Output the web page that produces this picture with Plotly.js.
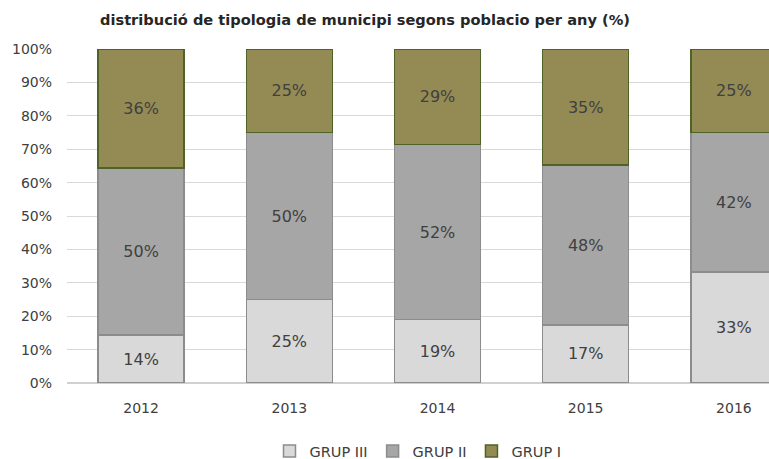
<!DOCTYPE html>
<html>
<head>
<meta charset="utf-8">
<script src="https://cdn.plot.ly/plotly-3.0.1.min.js"></script>
<style>html,body{margin:0;padding:0;background:#fff;}#chart{width:769px;height:459px;}</style>
</head>
<body>
<div id="chart"></div>
<script>
const years = ['2012', '2013', '2014', '2015', '2016'];
const grupIII = [14.3, 25.0, 19.0, 17.4, 33.3];
const grupII = [50.0, 50.0, 52.4, 47.8, 41.7];
const grupI = [35.7, 25.0, 28.6, 34.8, 25.0];
const seriesNames = ['GRUP III', 'GRUP II', 'GRUP I'];
const titleText = 'distribució de tipologia de municipi segons poblacio per any (%)';

const fontFam = 'DejaVu Sans, sans-serif';
const txtColor = '#404040';

function mk(name, vals, fill, line) {
  return {
    type: 'bar', name: name, x: years, y: vals,
    marker: {color: fill, line: {color: line, width: 1.5}},
    texttemplate: '%{y:.0f}%', textposition: 'inside', insidetextanchor: 'middle',
    textfont: {family: fontFam, size: 16, color: txtColor},
    hoverinfo: 'skip'
  };
}

const data = [
  mk(seriesNames[0], grupIII, '#d9d9d9', '#8c8c8c'),
  mk(seriesNames[1], grupII, '#a6a6a6', '#8c8c8c'),
  mk(seriesNames[2], grupI, '#948a54', '#4f6228')
];

const layout = {
  width: 769, height: 459,
  margin: {l: 67, r: 0, t: 49, b: 76, autoexpand: false},
  paper_bgcolor: '#fff', plot_bgcolor: '#fff',
  barmode: 'stack', bargap: 0.42,
  font: {family: fontFam, color: txtColor, size: 13},
  title: {text: titleText, x: 100/769, xanchor: 'left', xref: 'container', y: 1 - 20/459, yanchor: 'middle', yref: 'container',
          font: {family: fontFam, size: 14.6, weight: 'bold', color: '#262626'}},
  xaxis: {type: 'category', range: [-0.5, 4.237], showgrid: false, showline: false, ticks: '', automargin: false,
          ticklabelstandoff: 15,
          tickfont: {family: fontFam, size: 14, color: txtColor}, fixedrange: true},
  yaxis: {range: [0, 100], dtick: 10, ticksuffix: '%', showgrid: true, gridcolor: '#d9d9d9', gridwidth: 1,
          zeroline: true, zerolinecolor: '#d0d0d0', zerolinewidth: 1.5, showline: false, automargin: false,
          ticklabelstandoff: 14,
          tickfont: {family: fontFam, size: 14, color: txtColor}, ticklen: 0, ticks: '', fixedrange: true},
  showlegend: true,
  legend: {orientation: 'h', x: 0.5, xanchor: 'center', y: 8/459, yanchor: 'middle', yref: 'container', traceorder: 'normal',
           font: {family: fontFam, size: 14.5, color: txtColor}, itemwidth: 30, tracegroupgap: 0}
};

Plotly.newPlot('chart', data, layout, {displayModeBar: false, staticPlot: true});
</script>
</body>
</html>
